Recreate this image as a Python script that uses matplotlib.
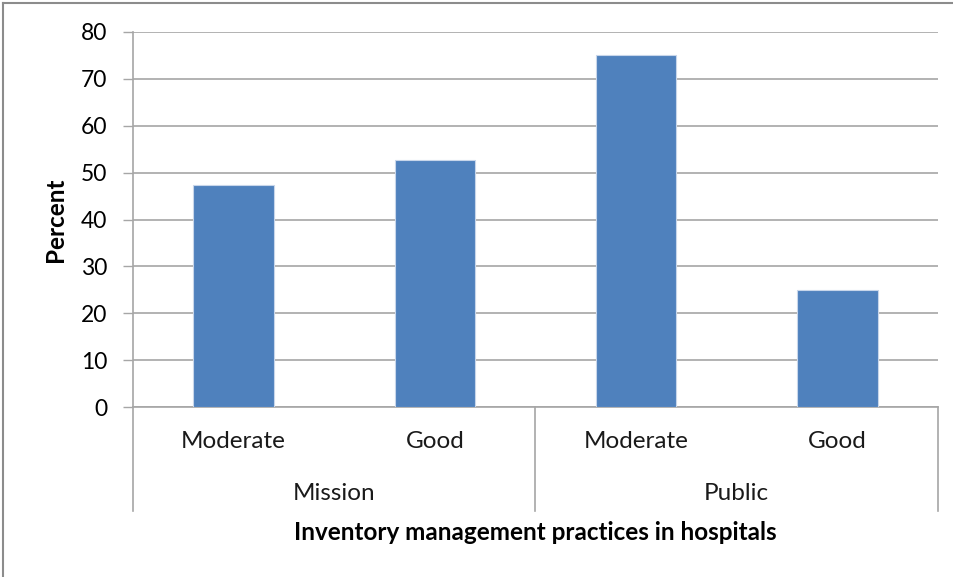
import matplotlib
matplotlib.use("Agg")
import matplotlib.pyplot as plt
from matplotlib.lines import Line2D
from matplotlib.transforms import blended_transform_factory

groups = ["Mission", "Public"]
categories = ["Moderate", "Good", "Moderate", "Good"]
values = [47.4, 52.6, 75.0, 25.0]
yticks = [0, 10, 20, 30, 40, 50, 60, 70, 80]

W, H = 954, 577
fig = plt.figure(figsize=(W / 100, H / 100), dpi=100)
plt.rcParams['font.family'] = ['Lato', 'DejaVu Sans']

left, right, top, bottom = 133, 938, 32, 407
ax = fig.add_axes([left / W, 1 - bottom / H, (right - left) / W, (bottom - top) / H])

gray = "#a6a6a6"
fs = 17.5
xs = [i + 0.5 for i in range(len(values))]
ax.bar(xs, values, width=0.40, color="#4f81bd", edgecolor="#c8d6ea", linewidth=0.8, zorder=3)

ax.set_xlim(0, len(values))
ax.set_ylim(0, 80)
ax.set_yticks(yticks)
ax.set_yticklabels([str(v) for v in yticks], fontsize=16.5)
ax.yaxis.grid(True, color=gray, linewidth=1.2, zorder=0)
ax.set_axisbelow(True)
ax.tick_params(axis="y", length=7.5, color=gray, width=1, pad=11)
ax.tick_params(axis="x", length=0, labelbottom=False)
for s in ["top", "right"]:
    ax.spines[s].set_visible(False)
for s in ["left", "bottom"]:
    ax.spines[s].set_color(gray)
    ax.spines[s].set_linewidth(1.2)

ax.set_ylabel("Percent", fontsize=fs, fontweight="bold", labelpad=10)

trans = blended_transform_factory(ax.transData, ax.transAxes)
plot_h = bottom - top
def yfrac(py):
    return (bottom - py) / plot_h

for x, c in zip(xs, categories):
    ax.text(x, yfrac(441), c, transform=trans, ha="center", va="center", fontsize=fs, color="#1a1a1a")
for gi, g in enumerate(groups):
    ax.text(gi * 2 + 1, yfrac(493), g, transform=trans, ha="center", va="center", fontsize=fs, color="#1a1a1a")
for xb in [0, 2, 4]:
    ax.add_line(Line2D([xb, xb], [0, yfrac(511)], transform=trans, color=gray, linewidth=1.2, clip_on=False))

ax.text(2, yfrac(532), "Inventory management practices in hospitals", transform=trans,
        ha="center", va="center", fontsize=fs, fontweight="bold")

# figure border (top and left)
fig.add_artist(Line2D([3 / W, 1], [1 - 3 / H, 1 - 3 / H], transform=fig.transFigure, color="#8c8c8c", linewidth=1.5))
fig.add_artist(Line2D([3 / W, 3 / W], [0, 1 - 3 / H], transform=fig.transFigure, color="#8c8c8c", linewidth=1.5))

fig.savefig("out.png", dpi=100)
